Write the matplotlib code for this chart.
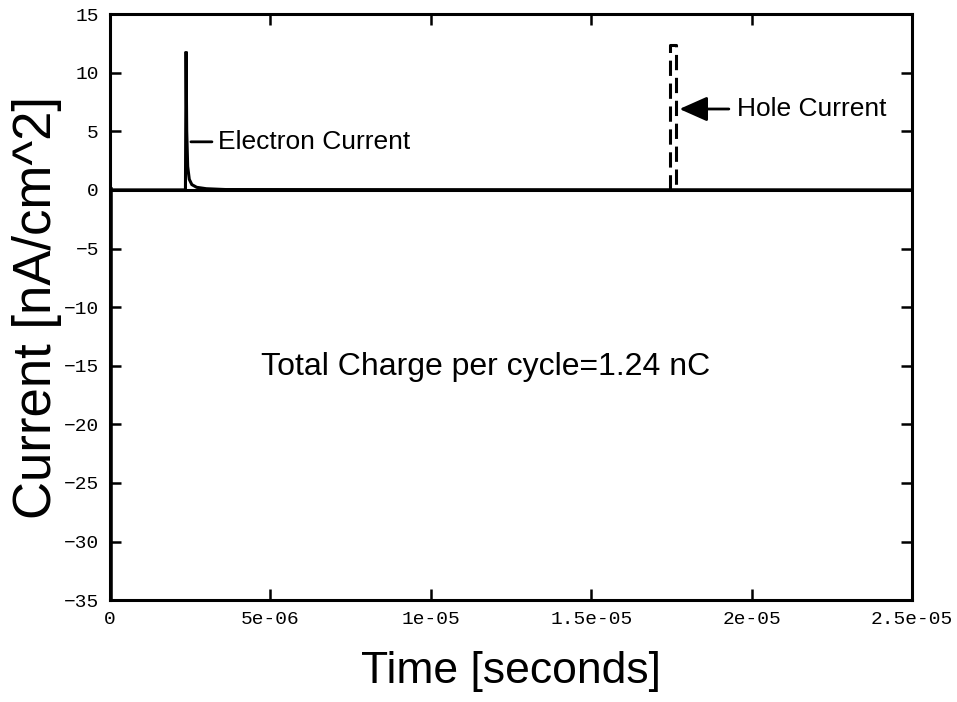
import matplotlib
matplotlib.use("Agg")
from matplotlib import pyplot as plt

# time axis [s] and current [nA/cm^2]
electron_t = [0.0, 0.0, 1e-9, 2.35e-6, 2.37e-6, 2.39e-6, 2.42e-6, 2.47e-6, 2.55e-6,
              2.70e-6, 3.0e-6, 3.6e-6, 2.5e-5]
electron_i = [-40.0, 0.0, 0.0, 0.0, 11.8, 5.0, 2.0, 0.9, 0.45, 0.22, 0.1, 0.03, 0.0]

hole_t = [1.745e-5, 1.745e-5, 1.765e-5, 1.765e-5]
hole_i = [0.0, 12.4, 12.4, 0.0]

xticks = [0, 5e-6, 1e-5, 1.5e-5, 2e-5, 2.5e-5]
xtick_labels = ["0", "5e-06", "1e-05", "1.5e-05", "2e-05", "2.5e-05"]
yticks = [-35, -30, -25, -20, -15, -10, -5, 0, 5, 10, 15]

fig = plt.figure(figsize=(9.57, 7.02), dpi=100)
ax = fig.add_axes([0.115, 0.145, 0.838, 0.835])

ax.axhline(0, color="black", lw=2.2, zorder=1)
ax.plot(electron_t, electron_i, color="black", lw=2.2, solid_joinstyle="miter")
ax.plot([0, 0], [0, -40], color="black", lw=4)
ax.plot(hole_t, hole_i, color="black", lw=2.2, linestyle=(0, (5, 2.5)))

ax.set_xlim(0, 2.5e-5)
ax.set_ylim(-35, 15)
ax.set_xticks(xticks)
ax.set_xticklabels(xtick_labels)
ax.set_yticks(yticks)
ax.tick_params(direction="in", length=8, width=1.8, top=True, right=True,
               labelsize=14, pad=8)
for lab in ax.get_xticklabels() + ax.get_yticklabels():
    lab.set_family("Liberation Mono")
for sp in ax.spines.values():
    sp.set_linewidth(2.2)

ax.set_xlabel("Time [seconds]", family="Liberation Sans", fontsize=32, labelpad=16)
ax.set_ylabel("Current [nA/cm^2]", family="Liberation Sans", fontsize=38)
ax.yaxis.set_label_coords(-0.06, 0.5)

ax.annotate("Electron Current", xy=(2.52e-6, 4.1), xytext=(3.35e-6, 4.1),
            va="center", ha="left", family="Liberation Sans", fontsize=19,
            arrowprops=dict(arrowstyle="-", lw=2, color="black", shrinkA=2, shrinkB=0))
ax.annotate("Hole Current", xy=(1.775e-5, 6.9), xytext=(1.955e-5, 6.9),
            va="center", ha="left", family="Liberation Sans", fontsize=19,
            arrowprops=dict(arrowstyle="-|>,head_length=0.9,head_width=0.4", lw=2,
                            color="black", shrinkA=4, shrinkB=0))
ax.text(1.17e-5, -15.1, "Total Charge per cycle=1.24 nC", ha="center", va="center",
        family="Liberation Sans", fontsize=23)

fig.savefig("out.png", dpi=100)
